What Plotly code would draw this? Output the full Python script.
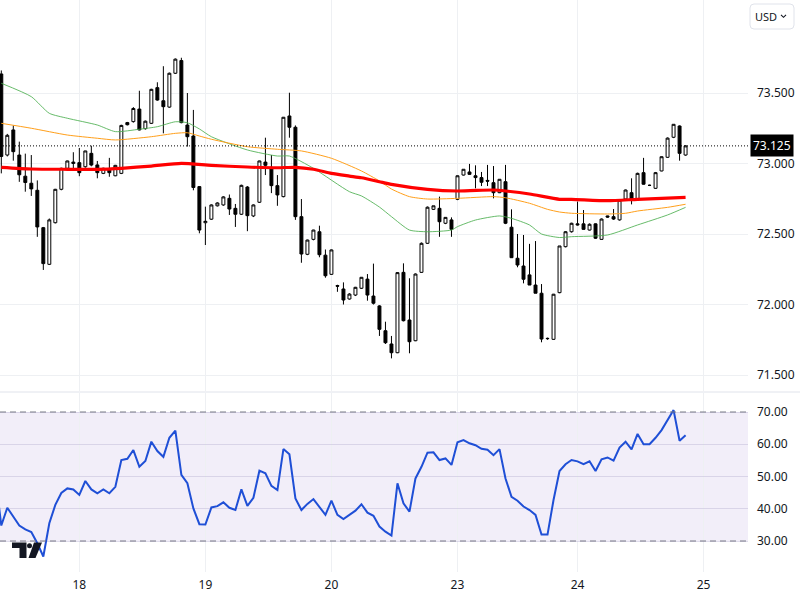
import plotly.graph_objects as go

# ---------------- data ----------------
opens = [73.635, 73.06, 73.238, 73.06, 72.91, 72.86, 72.81, 72.545, 72.285, 72.58,
         72.817, 72.966, 73.00, 73.006, 72.977, 73.072, 72.99, 72.93, 72.954, 72.913,
         72.93, 73.29, 73.297, 73.386, 73.247, 73.285, 73.538, 73.445, 73.40, 73.64,
         73.73, 73.273, 73.195, 72.836, 72.58, 72.605, 72.70, 72.706, 72.753, 72.682,
         72.64, 72.833, 72.628, 72.725, 73.01, 72.973, 72.843, 72.765, 73.337, 73.257,
         72.623, 72.356, 72.462, 72.516, 72.35, 72.214, 72.134, 72.11, 72.039, 72.067,
         72.115, 72.18, 72.06, 71.99, 71.814, 71.72, 71.658, 72.228, 71.89, 71.743,
         72.228, 72.434, 72.675, 72.682, 72.576, 72.60, 72.746, 72.918, 72.94, 72.913,
         72.90, 72.88, 72.864, 72.793, 72.871, 72.548, 72.328, 72.273, 72.21, 72.138,
         72.08, 71.76, 71.753, 72.084, 72.41, 72.516, 72.572, 72.572, 72.528, 72.572,
         72.462, 72.628, 72.623, 72.60, 72.748, 72.793, 72.741, 72.935, 72.845, 72.824,
         72.947, 73.044, 73.186, 73.266, 73.06]
highs = [73.66, 73.21, 73.27, 73.155, 73.07, 73.06, 72.88, 72.55, 72.61, 72.82,
         72.97, 73.02, 73.08, 73.11, 73.09, 73.126, 73.018, 72.97, 73.04, 72.99,
         73.275, 73.295, 73.40, 73.516, 73.305, 73.53, 73.576, 73.69, 73.645, 73.745,
         73.75, 73.50, 73.38, 72.84, 72.694, 72.71, 72.725, 72.768, 72.78, 72.713,
         72.85, 72.84, 72.71, 73.02, 73.183, 73.06, 72.918, 73.33, 73.502, 73.27,
         72.748, 72.46, 72.53, 72.559, 72.39, 72.39, 72.14, 72.157, 72.08, 72.125,
         72.195, 72.216, 72.29, 71.995, 71.878, 71.777, 72.23, 72.292, 72.186, 72.22,
         72.44, 72.695, 72.70, 72.765, 72.62, 72.618, 72.915, 72.96, 72.997, 72.987,
         72.94, 72.99, 72.982, 72.89, 72.99, 72.675, 72.50, 72.493, 72.43, 72.45,
         72.145, 71.765, 72.075, 72.415, 72.52, 72.58, 72.73, 72.67, 72.575, 72.575,
         72.61, 72.63, 72.677, 72.745, 72.815, 72.895, 72.935, 73.04, 72.85, 72.94,
         73.05, 73.185, 73.28, 73.27, 73.13]
lows = [72.93, 73.05, 73.02, 72.87, 72.80, 72.77, 72.48, 72.245, 72.28, 72.575,
        72.81, 72.96, 72.95, 72.91, 72.97, 72.98, 72.895, 72.925, 72.906, 72.91,
        72.925, 73.27, 73.29, 73.235, 73.24, 73.28, 73.445, 73.214, 73.395, 73.635,
        73.285, 73.12, 72.81, 72.505, 72.422, 72.60, 72.695, 72.70, 72.635, 72.55,
        72.635, 72.52, 72.62, 72.72, 72.918, 72.79, 72.70, 72.76, 73.183, 72.60,
        72.296, 72.35, 72.455, 72.335, 72.19, 72.21, 72.09, 72.0, 72.035, 72.06,
        72.11, 72.027, 72.0, 71.777, 71.72, 71.618, 71.655, 71.88, 71.654, 71.74,
        72.225, 72.43, 72.67, 72.48, 72.57, 72.48, 72.74, 72.915, 72.92, 72.824,
        72.84, 72.84, 72.753, 72.79, 72.57, 72.33, 72.264, 72.15, 72.138, 72.08,
        71.732, 71.75, 71.75, 72.08, 72.405, 72.51, 72.56, 72.53, 72.525, 72.465,
        72.46, 72.615, 72.60, 72.595, 72.745, 72.71, 72.738, 72.85, 72.84, 72.82,
        72.945, 73.04, 73.18, 73.02, 73.055]
closes = [73.05, 73.20, 73.084, 72.92, 72.865, 72.82, 72.55, 72.29, 72.60, 72.817,
          72.966, 73.018, 73.01, 72.935, 73.089, 72.989, 72.935, 72.966, 72.935, 72.987,
          73.27, 73.275, 73.39, 73.238, 73.30, 73.526, 73.45, 73.403, 73.64, 73.74,
          73.29, 73.19, 72.83, 72.528, 72.59, 72.706, 72.72, 72.763, 72.677, 72.64,
          72.845, 72.63, 72.706, 73.018, 72.987, 72.843, 72.777, 73.328, 73.257, 72.623,
          72.358, 72.457, 72.528, 72.353, 72.204, 72.387, 72.13, 72.032, 72.074, 72.122,
          72.193, 72.067, 72.009, 71.824, 71.729, 71.658, 72.226, 71.885, 71.736, 72.216,
          72.434, 72.69, 72.70, 72.587, 72.618, 72.533, 72.913, 72.959, 72.923, 72.90,
          72.867, 72.875, 72.793, 72.888, 72.576, 72.332, 72.28, 72.179, 72.138, 72.08,
          71.755, 71.758, 72.073, 72.415, 72.516, 72.576, 72.565, 72.533, 72.569, 72.47,
          72.606, 72.62, 72.606, 72.74, 72.812, 72.748, 72.93, 72.853, 72.845, 72.935,
          73.048, 73.18, 73.278, 73.072, 73.125]
bars = list(range(len(closes)))

rsi_start = -1
rsi = [50.0, 34.8, 40.3, 37.5, 34.8, 33.6, 32.8, 29.3, 25.2, 35.5, 41.2,
       44.9, 46.3, 46.0, 44.3, 48.6, 46.0, 44.8, 46.0, 44.8, 46.8,
       55.1, 55.5, 58.2, 53.0, 54.8, 60.8, 57.9, 56.1, 62.0, 64.2,
       50.5, 47.9, 40.1, 35.2, 35.1, 40.4, 40.8, 42.0, 40.3, 39.6,
       46.0, 40.9, 43.4, 51.8, 51.0, 47.1, 45.8, 58.5, 56.9, 43.2,
       39.6, 41.5, 43.0, 40.4, 38.1, 42.5, 38.1, 36.8, 38.1, 39.4,
       41.4, 38.8, 37.8, 34.5, 32.9, 31.7, 47.9, 41.7, 39.1, 49.4,
       53.0, 57.4, 57.5, 55.1, 55.6, 53.6, 60.6, 61.3, 60.3, 59.7,
       58.6, 58.3, 56.6, 58.5, 49.4, 43.7, 42.5, 40.7, 39.6, 38.1,
       32.0, 32.0, 42.7, 51.7, 53.8, 55.1, 54.7, 53.8, 54.7, 51.7,
       55.3, 55.9, 54.9, 59.0, 60.8, 58.4, 63.2, 60.0, 60.0, 62.0,
       64.4, 67.5, 70.6, 61.1, 62.8]
rsi_bars = list(range(rsi_start, rsi_start + len(rsi)))

red_idx = [0, 5, 11, 16, 20, 25, 30, 35, 41, 46, 49, 52, 55, 58, 60, 63, 65, 71, 76,
           82, 84, 88, 93, 95, 101, 106, 114]
red_val = [72.973, 72.961, 72.959, 72.959, 72.966, 72.982, 73.001, 72.987, 72.975,
           72.970, 72.973, 72.959, 72.930, 72.911, 72.899, 72.871, 72.852, 72.817,
           72.805, 72.812, 72.805, 72.784, 72.746, 72.746, 72.736, 72.746, 72.760]
orange_idx = [0, 5, 11, 16, 19, 25, 29, 31, 33, 35, 41, 46, 50, 55, 60, 63, 65, 68, 71,
              76, 82, 84, 88, 91, 93, 95, 101, 104, 106, 111, 114]
orange_val = [73.285, 73.250, 73.202, 73.179, 73.167, 73.190, 73.214, 73.218, 73.195,
              73.172, 73.119, 73.101, 73.089, 73.037, 72.947, 72.876, 72.819, 72.765,
              72.748, 72.753, 72.765, 72.757, 72.718, 72.675, 72.656, 72.647, 72.642,
              72.647, 72.663, 72.689, 72.711]
green_idx = [0, 5, 8, 11, 16, 19, 23, 26, 29, 31, 33, 35, 41, 46, 48, 52, 58, 60, 63,
             65, 68, 71, 75, 76, 79, 83, 85, 88, 90, 93, 95, 101, 106, 111, 114]
green_val = [73.569, 73.474, 73.356, 73.321, 73.273, 73.226, 73.243, 73.261, 73.296,
             73.289, 73.245, 73.190, 73.096, 73.053, 73.053, 72.966, 72.800, 72.770,
             72.691, 72.623, 72.528, 72.516, 72.528, 72.552, 72.599, 72.628, 72.611,
             72.564, 72.500, 72.475, 72.481, 72.493, 72.564, 72.635, 72.689]

day_ticks = [13, 34, 55, 76, 96, 117]
day_labels = ["18", "19", "20", "23", "24", "25"]
price_ticks = [71.5, 72.0, 72.5, 73.0, 73.5]
rsi_ticks = [30, 40, 50, 60, 70]
currency = "USD"

# ---------------- figure ----------------
W, H = 800, 600
ML, MR, MT, MB = 0, 52, 0, 28
PW, PH = W - ML - MR, H - MT - MB


def px(x):
    return (x - ML) / PW


def py(y):
    return 1 - (y - MT) / PH


FONT = "Noto Sans"
TXT = "#131722"
GRID = "#eef0f3"

fig = go.Figure()

for idx, val, col, w in [(green_idx, green_val, "rgba(76,175,80,0.85)", 1),
                         (orange_idx, orange_val, "#ff9f1a", 1),
                         (red_idx, red_val, "#ff0000", 3.2)]:
    fig.add_trace(go.Scatter(x=idx, y=val, mode="lines",
                             line=dict(color=col, width=w, shape="spline", smoothing=0.6),
                             xaxis="x", yaxis="y", hoverinfo="skip", showlegend=False))

fig.add_trace(go.Candlestick(
    x=bars, open=opens, high=highs, low=lows, close=closes,
    increasing=dict(line=dict(color="#000000", width=1), fillcolor="#ffffff"),
    decreasing=dict(line=dict(color="#000000", width=1), fillcolor="#000000"),
    whiskerwidth=0, xaxis="x", yaxis="y", showlegend=False))

fig.add_trace(go.Scatter(x=rsi_bars, y=rsi, mode="lines",
                         line=dict(color="#1f4fd6", width=2),
                         xaxis="x2", yaxis="y2", hoverinfo="skip", showlegend=False))

xr = [-0.217, 124.4]
main_top, main_bot = 0, 391
rsi_top, rsi_bot = 393, PH
p_per_px = 1 / 141.0
y_range = [73.5 - (main_bot - 93) * p_per_px, 73.5 + 93 * p_per_px]
r_per_px = 10 / 32.25
r_range = [30 - (rsi_bot - 541) * r_per_px, 70 + (412 - rsi_top) * r_per_px]

fig.update_layout(
    width=W, height=H, margin=dict(l=ML, r=MR, t=MT, b=MB),
    paper_bgcolor="#ffffff", plot_bgcolor="#ffffff",
    font=dict(family=FONT, size=12, color=TXT),
    xaxis=dict(domain=[0, 1], range=xr, showticklabels=False, showgrid=True,
               gridcolor=GRID, gridwidth=1, tickvals=day_ticks, zeroline=False,
               rangeslider=dict(visible=False), anchor="y", fixedrange=True),
    yaxis=dict(domain=[py(main_bot), 1], range=y_range, side="right",
               tickvals=price_ticks, tickformat=".3f", showgrid=True, gridcolor=GRID,
               zeroline=False, ticks="", ticklabelstandoff=8, anchor="x",
               tickfont=dict(size=12, color=TXT)),
    xaxis2=dict(domain=[0, 1], range=xr, matches="x", tickvals=day_ticks,
                ticktext=day_labels, showgrid=True, gridcolor=GRID, zeroline=False,
                ticks="", ticklabelstandoff=4, anchor="y2",
                tickfont=dict(size=12, color=TXT)),
    yaxis2=dict(domain=[0, py(rsi_top)], range=r_range, side="right",
                tickvals=rsi_ticks, tickformat=".2f", showgrid=True,
                gridcolor="rgba(200,195,220,0.6)", zeroline=False, ticks="",
                ticklabelstandoff=8, anchor="x2", tickfont=dict(size=12, color=TXT)),
)

shapes = []
# RSI band
shapes.append(dict(type="rect", xref="x2 domain", yref="y2", x0=0, x1=1, y0=30, y1=70,
                   fillcolor="rgba(126,87,194,0.10)", line=dict(width=0), layer="below"))
for lvl in (30, 70):
    shapes.append(dict(type="line", xref="x2 domain", yref="y2", x0=0, x1=1, y0=lvl, y1=lvl,
                       line=dict(color="#787b86", width=1, dash="6px,4px")))
# current price dotted line
shapes.append(dict(type="line", xref="x domain", yref="y", x0=0, x1=1,
                   y0=closes[-1], y1=closes[-1],
                   line=dict(color="#000000", width=1, dash="1px,2px")))
# pane separator
shapes.append(dict(type="line", xref="paper", yref="paper", x0=0, x1=px(W),
                   y0=py(392), y1=py(392), line=dict(color="#e0e3eb", width=1)))
# currency button (rounded)
bx0, bx1, by0, by1, r = 750, 794, 4, 29, 4
path = (f"M {px(bx0 + r)},{py(by0)} L {px(bx1 - r)},{py(by0)} "
        f"Q {px(bx1)},{py(by0)} {px(bx1)},{py(by0 + r)} L {px(bx1)},{py(by1 - r)} "
        f"Q {px(bx1)},{py(by1)} {px(bx1 - r)},{py(by1)} L {px(bx0 + r)},{py(by1)} "
        f"Q {px(bx0)},{py(by1)} {px(bx0)},{py(by1 - r)} L {px(bx0)},{py(by0 + r)} "
        f"Q {px(bx0)},{py(by0)} {px(bx0 + r)},{py(by0)} Z")
shapes.append(dict(type="path", xref="paper", yref="paper", path=path,
                   line=dict(color="#e0e3eb", width=1), fillcolor="#ffffff"))
chev = f"M {px(781)},{py(14.8)} L {px(783.5)},{py(17.3)} L {px(786)},{py(14.8)}"
shapes.append(dict(type="path", xref="paper", yref="paper", path=chev,
                   line=dict(color=TXT, width=1.1)))
# TradingView logo
shapes.append(dict(type="path", xref="paper", yref="paper",
                   path=(f"M {px(12)},{py(542.5)} L {px(26.5)},{py(542.5)} L {px(26.5)},{py(558)} "
                         f"L {px(19.5)},{py(558)} L {px(19.5)},{py(548)} L {px(12)},{py(548)} Z"),
                   fillcolor="#131722", line=dict(width=0)))
shapes.append(dict(type="circle", xref="paper", yref="paper",
                   x0=px(27), x1=px(32), y0=py(543.2), y1=py(548.2),
                   fillcolor="#131722", line=dict(width=0)))
shapes.append(dict(type="path", xref="paper", yref="paper",
                   path=(f"M {px(34)},{py(542.5)} L {px(42)},{py(542.5)} L {px(35.5)},{py(558)} "
                         f"L {px(28.5)},{py(558)} Z"),
                   fillcolor="#131722", line=dict(width=0)))
fig.update_layout(shapes=shapes)

fig.add_annotation(xref="paper", yref="y", x=px(750), y=closes[-1], xanchor="left",
                   yanchor="middle", text=f"{closes[-1]:.3f}", showarrow=False,
                   font=dict(color="#ffffff", size=12, family=FONT),
                   bgcolor="#000000", borderpad=2)
fig.add_annotation(xref="paper", yref="paper", x=px(753), y=py(16.5), xanchor="left",
                   yanchor="middle", text=currency, showarrow=False,
                   font=dict(color=TXT, size=11, family=FONT))

fig.write_html("out.html",
               config={"displayModeBar": False, "staticPlot": True},
               post_script="document.body.style.margin='0px';"
                           "document.body.style.overflow='hidden';")
